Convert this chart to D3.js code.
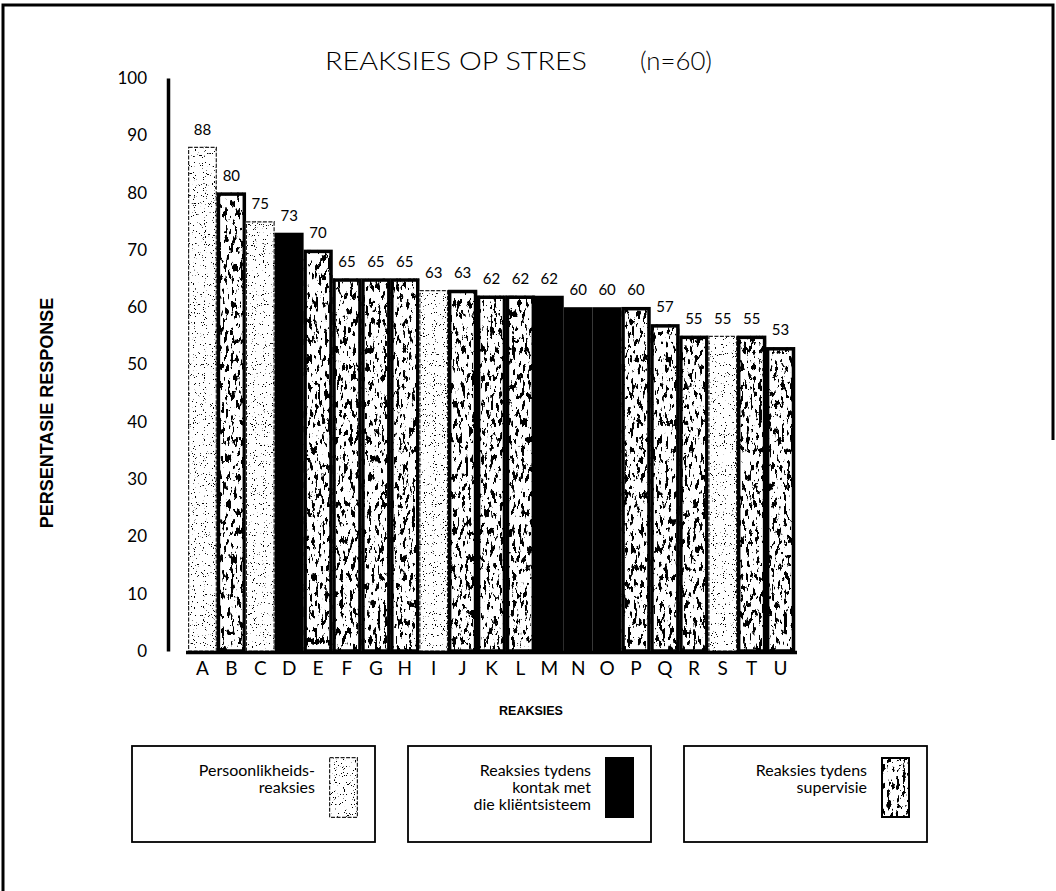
<!DOCTYPE html>
<html>
<head>
<meta charset="utf-8">
<script src="https://cdn.jsdelivr.net/npm/d3@7"></script>
<style>
  html, body { margin: 0; padding: 0; background: #fff; }
  svg { display: block; }
  text { fill: #000; }
</style>
</head>
<body>
<svg id="chart" width="1056" height="891"></svg>
<script>
// Reaksies op stres (n=60): persentasie respondente per reaksie
const categories = ["A","B","C","D","E","F","G","H","I","J","K","L","M","N","O","P","Q","R","S","T","U"];
const values = [88,80,75,73,70,65,65,65,63,63,62,62,62,60,60,60,57,55,55,55,53];
const groups = ["persoonlikheid","supervisie","persoonlikheid","klient","supervisie","supervisie","supervisie","supervisie",
                "persoonlikheid","supervisie","supervisie","supervisie","klient","klient","klient","supervisie",
                "supervisie","supervisie","persoonlikheid","supervisie","supervisie"];
const yTicks = [0,10,20,30,40,50,60,70,80,90,100];
const legendGroups = ["persoonlikheid","klient","supervisie"];
const legendLabels = [["Persoonlikheids-","reaksies"],
                      ["Reaksies tydens","kontak met","die kliëntsisteem"],
                      ["Reaksies tydens","supervisie"]];
const title = "REAKSIES OP STRES";
const subtitle = "(n=60)";
const yTitle = "PERSENTASIE RESPONSE";
const xTitle = "REAKSIES";

const FONT = "'Century Gothic','URW Gothic',Lato,'DejaVu Sans',sans-serif";
const BOLD = "'Liberation Sans',Arial,sans-serif";

const svg = d3.select("#chart");
const rows = categories.map((c, i) => ({ c, v: values[i], g: groups[i] }));

// ---- textures: stippled and blotched fills built from noise filters ----
const defs = svg.append("defs");
const blot = defs.append("filter").attr("id", "blot")
  .attr("x", 0).attr("y", 0).attr("width", 1).attr("height", 1);
blot.append("feTurbulence").attr("type", "fractalNoise")
  .attr("baseFrequency", "0.32 0.11").attr("numOctaves", 4).attr("seed", 11).attr("result", "noise");
blot.append("feColorMatrix").attr("in", "noise").attr("type", "matrix")
  .attr("values", "0 0 0 0 0  0 0 0 0 0  0 0 0 0 0  -24 0 0 0 10.3").attr("result", "ink");
blot.append("feComposite").attr("in", "ink").attr("in2", "SourceGraphic").attr("operator", "in");

const dots = defs.append("filter").attr("id", "dots")
  .attr("x", 0).attr("y", 0).attr("width", 1).attr("height", 1);
dots.append("feTurbulence").attr("type", "fractalNoise")
  .attr("baseFrequency", "0.9").attr("numOctaves", 1).attr("seed", 3).attr("result", "noise");
dots.append("feColorMatrix").attr("in", "noise").attr("type", "matrix")
  .attr("values", "0 0 0 0 0  0 0 0 0 0  0 0 0 0 0  30 0 0 0 -19.9").attr("result", "ink");
dots.append("feComposite").attr("in", "ink").attr("in2", "SourceGraphic").attr("operator", "in");

// ---- outer frame ----
svg.append("path")
  .attr("d", "M3,891 V5 H1053 V440")
  .attr("fill", "none").attr("stroke", "#000").attr("stroke-width", 3);

// ---- scales ----
const x = d3.scaleBand().domain(categories).range([188, 795]).padding(0);
const y = d3.scaleLinear().domain([0, 100]).range([651, 78]);

// ---- title ----
svg.append("text").attr("x", 325).attr("y", 70)
  .attr("font-family", FONT).attr("font-size", 26).attr("font-weight", 300)
  .attr("textLength", 262).attr("lengthAdjust", "spacingAndGlyphs")
  .text(title);
svg.append("text").attr("x", 640).attr("y", 70)
  .attr("font-family", FONT).attr("font-size", 26).attr("font-weight", 300)
  .attr("textLength", 72).attr("lengthAdjust", "spacingAndGlyphs")
  .text(subtitle);

// ---- y axis ----
const yAxis = svg.append("g").attr("transform", "translate(168,0)")
  .call(d3.axisLeft(y).tickValues(yTicks).tickSize(0).tickSizeOuter(0).tickPadding(21));
yAxis.select(".domain").attr("stroke", "#000").attr("stroke-width", 3.5);
yAxis.selectAll("text").attr("font-family", FONT).attr("font-size", 17).attr("fill", "#000");

svg.append("text")
  .attr("transform", "translate(53,413) rotate(-90)")
  .attr("text-anchor", "middle")
  .attr("font-family", BOLD).attr("font-weight", "bold").attr("font-size", 18)
  .text(yTitle);

// ---- bars ----
const bw = x.bandwidth();
const bars = svg.append("g");
rows.forEach(d => {
  const x0 = x(d.c), y0 = y(d.v), h = y(0) - y(d.v);
  if (d.g === "klient") {
    bars.append("rect").attr("x", x0).attr("y", y0).attr("width", bw).attr("height", h).attr("fill", "#000");
  } else if (d.g === "supervisie") {
    bars.append("rect").attr("x", x0).attr("y", y0).attr("width", bw).attr("height", h).attr("fill", "#fff");
    bars.append("rect").attr("x", x0).attr("y", y0).attr("width", bw).attr("height", h)
      .attr("fill", "#fff").attr("filter", "url(#blot)");
    bars.append("rect").attr("x", x0 + 1.5).attr("y", y0 + 1.5).attr("width", bw - 3).attr("height", h - 1.5)
      .attr("fill", "none").attr("stroke", "#000").attr("stroke-width", 3.5);
  } else {
    bars.append("rect").attr("x", x0).attr("y", y0).attr("width", bw).attr("height", h).attr("fill", "#fff");
    bars.append("rect").attr("x", x0).attr("y", y0).attr("width", bw).attr("height", h)
      .attr("fill", "#fff").attr("filter", "url(#dots)");
    bars.append("rect").attr("x", x0 + 0.6).attr("y", y0 + 0.6).attr("width", bw - 1.2).attr("height", h - 0.6)
      .attr("fill", "none").attr("stroke", "#222").attr("stroke-width", 1.2).attr("stroke-dasharray", "4,1.5");
  }
});

// value labels
svg.append("g").selectAll("text").data(rows).join("text")
  .attr("x", d => x(d.c) + bw / 2)
  .attr("y", d => y(d.v) - 12)
  .attr("text-anchor", "middle")
  .attr("font-family", FONT).attr("font-size", 15)
  .text(d => d.v);

// baseline
svg.append("line").attr("x1", 186).attr("x2", 797).attr("y1", y(0) + 1.5).attr("y2", y(0) + 1.5)
  .attr("stroke", "#000").attr("stroke-width", 3.5);

// ---- x axis labels ----
const xAxis = svg.append("g").attr("transform", `translate(0,${y(0) + 3})`)
  .call(d3.axisBottom(x).tickSize(0).tickPadding(8));
xAxis.select(".domain").remove();
xAxis.selectAll("text").attr("font-family", FONT).attr("font-size", 19).attr("fill", "#000");

svg.append("text").attr("x", 531).attr("y", 715)
  .attr("text-anchor", "middle")
  .attr("font-family", BOLD).attr("font-weight", "bold").attr("font-size", 12.5)
  .text(xTitle);

// ---- legend ----
const legendX = d3.scalePoint().domain(legendGroups).range([132, 684]);
const boxW = 243, boxTop = 746, boxH = 96;
legendGroups.forEach((g, i) => {
  const bx = legendX(g);
  const lg = svg.append("g");
  lg.append("rect").attr("x", bx).attr("y", boxTop).attr("width", boxW).attr("height", boxH)
    .attr("fill", "#fff").attr("stroke", "#000").attr("stroke-width", 1.8);
  const sx = bx + boxW - 46, sy = 757, sw = 29, sh = 61;
  if (g === "klient") {
    lg.append("rect").attr("x", sx).attr("y", sy).attr("width", sw).attr("height", sh).attr("fill", "#000");
  } else if (g === "supervisie") {
    lg.append("rect").attr("x", sx).attr("y", sy).attr("width", sw).attr("height", sh).attr("fill", "#fff");
    lg.append("rect").attr("x", sx).attr("y", sy).attr("width", sw).attr("height", sh)
      .attr("fill", "#fff").attr("filter", "url(#blot)");
    lg.append("rect").attr("x", sx + 1).attr("y", sy + 1).attr("width", sw - 2).attr("height", sh - 2)
      .attr("fill", "none").attr("stroke", "#000").attr("stroke-width", 2);
  } else {
    lg.append("rect").attr("x", sx).attr("y", sy).attr("width", sw).attr("height", sh).attr("fill", "#fff");
    lg.append("rect").attr("x", sx).attr("y", sy).attr("width", sw).attr("height", sh)
      .attr("fill", "#fff").attr("filter", "url(#dots)");
    lg.append("rect").attr("x", sx + 0.6).attr("y", sy + 0.6).attr("width", sw - 1.2).attr("height", sh - 1.2)
      .attr("fill", "none").attr("stroke", "#222").attr("stroke-width", 1.2).attr("stroke-dasharray", "4,1.5");
  }
  lg.selectAll("text.lab").data(legendLabels[i]).join("text")
    .attr("class", "lab")
    .attr("x", sx - 14)
    .attr("y", (d, j) => 776 + j * 17)
    .attr("text-anchor", "end")
    .attr("font-family", FONT).attr("font-size", 16)
    .text(d => d);
});
</script>
</body>
</html>
